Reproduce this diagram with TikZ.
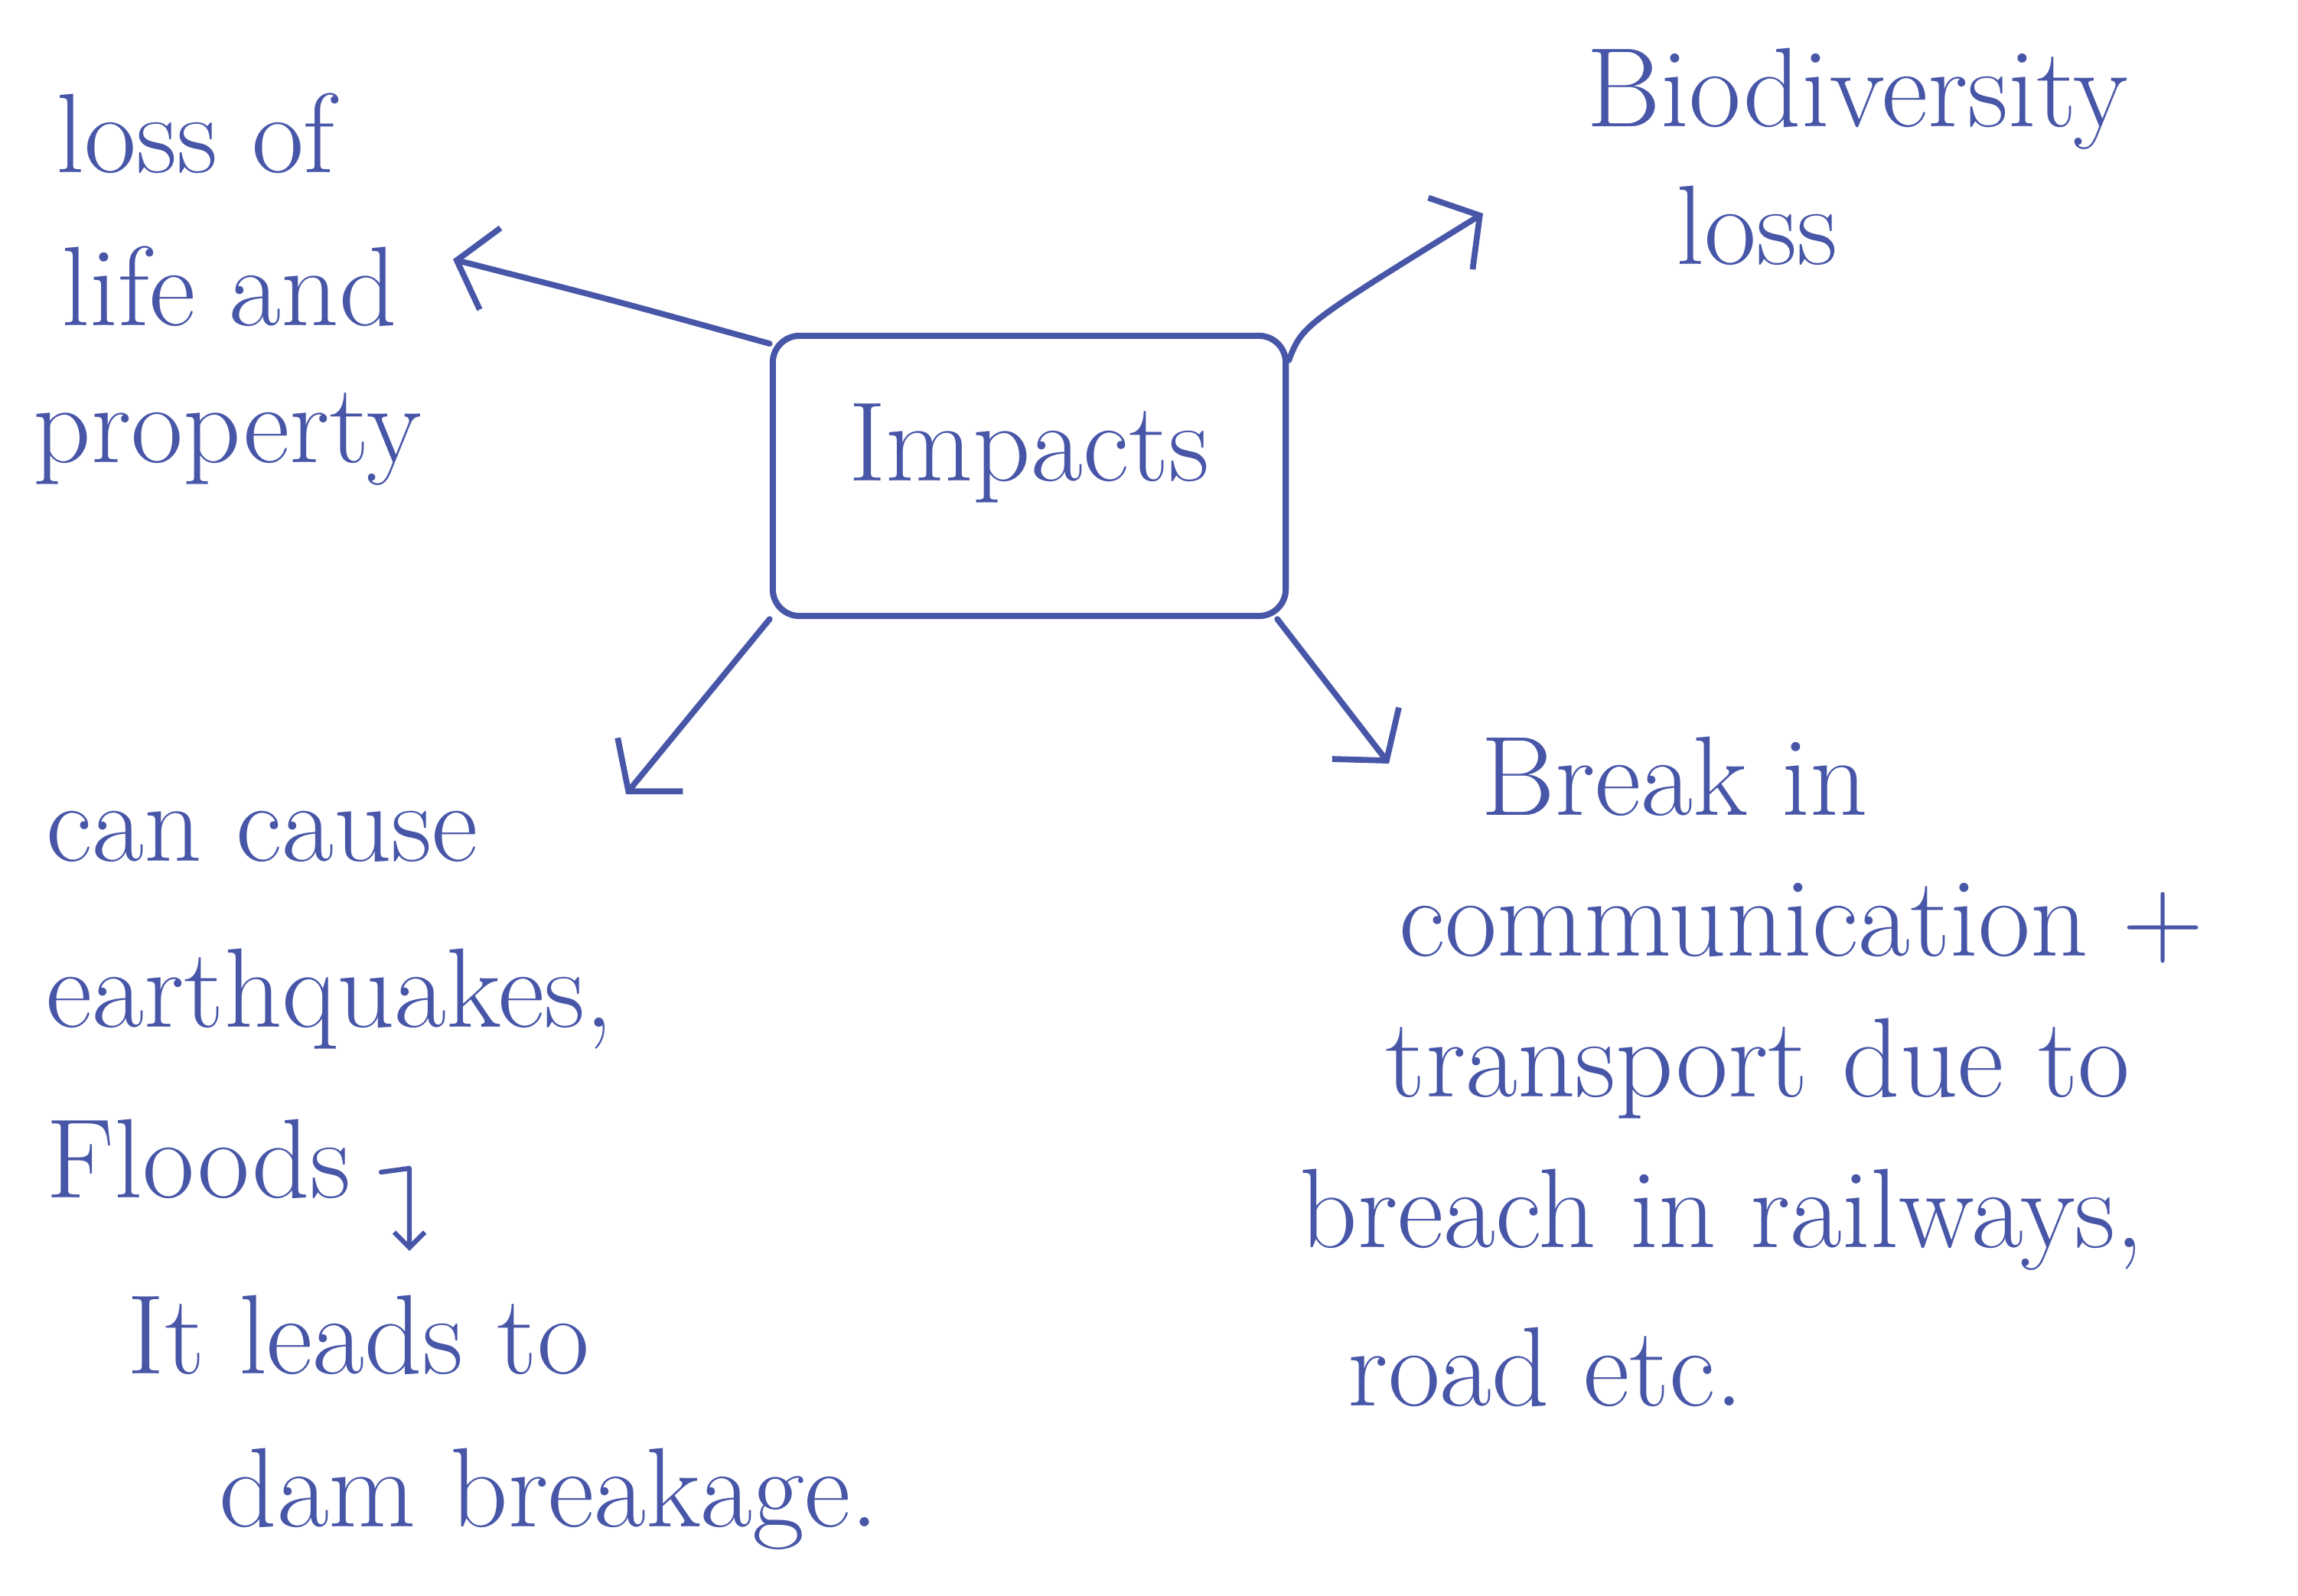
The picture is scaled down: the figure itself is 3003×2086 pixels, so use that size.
\documentclass[tikz,border=0pt]{standalone}
\usepackage{fontspec}
\usetikzlibrary{arrows.meta}
\definecolor{ink}{RGB}{72,86,168}
\begin{document}
\begin{tikzpicture}[x=0.01cm,y=-0.01cm,
  txt/.style={anchor=base west, inner sep=0pt, text=ink, font=\fontsize{42}{50}\selectfont},
  impbox/.style={draw=ink, line width=2.3pt, rounded corners=0.35cm, minimum width=6.7cm, minimum height=3.66cm, text=ink, font=\fontsize{42}{50}\selectfont, text depth=25pt},
  link/.style={draw=ink, line width=2.2pt, line cap=round, line join=round, -{Straight Barb[length=0.45cm,width=1.1cm]}},
  sublink/.style={draw=ink, line width=1.8pt, line cap=round, line join=round, -{Straight Barb[length=0.2cm,width=0.4cm]}}
]
\useasboundingbox (0,0) rectangle (3003,2086);
\fill[white] (0,0) rectangle (3003,2086);

% central box
\node[impbox] (box) at (1345,622) {Impacts};

% top-left
\node[txt] (lossA) at (73,226) {loss of};
\node[txt] (lossB) at (80,426) {life and};
\node[txt] (lossC) at (43,605) {property};

% top-right
\node[txt] (bioA) at (2073,166) {Biodiversity};
\node[txt] (bioB) at (2190,346) {loss};

% bottom-left
\node[txt] (causeA) at (60,1126) {can cause};
\node[txt] (causeB) at (60,1342) {earthquakes,};
\node[txt] (causeC) at (60,1565) {Floods};
\node[txt] (leadA) at (166,1795) {It leads to};
\node[txt] (leadB) at (286,1995) {dam breakage.};

% bottom-right
\node[txt] (brkA) at (1935,1066) {Break in};
\node[txt] (brkB) at (1828,1250) {communication +};
\node[txt] (brkC) at (1810,1433) {transport due to};
\node[txt] (brkD) at (1698,1630) {breach in railways,};
\node[txt] (brkE) at (1761,1837) {road etc.};

% arrow ends
\coordinate (t1) at (592,339);
\coordinate (t2) at (1938,279);
\coordinate (t3) at (818,1038);
\coordinate (t4) at (1815,998);

\draw[link] (box.153) .. controls (800,392) .. (t1);
\draw[link] (box.24) .. controls (1702,425) .. (t2);
\draw[link] (box.south west) -- (t3);
\draw[link] (box.-30) -- (t4);

% floods -> it leads to
\coordinate (b1) at (498,1532);
\coordinate (b2) at (535,1527);
\coordinate (b3) at (535,1635);
\draw[sublink] (b1) -- (b2) -- (b3);
\end{tikzpicture}
\end{document}
